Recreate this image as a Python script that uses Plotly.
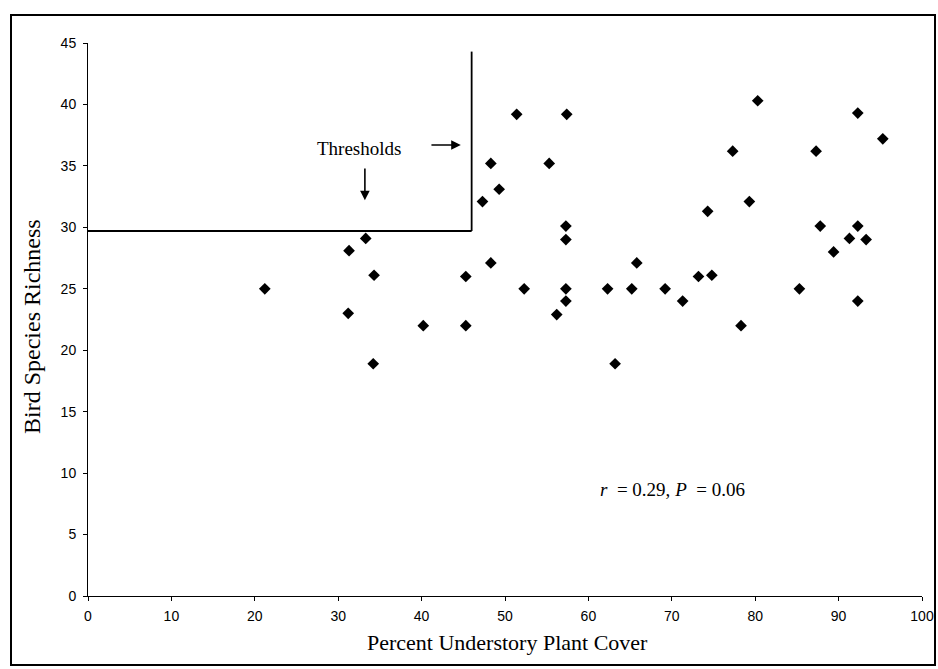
import plotly.graph_objects as go

# Data (Percent understory plant cover vs bird species richness)
cover = [21.2, 31.3, 33.3, 34.3, 31.2, 40.2, 34.2,
         45.3, 45.3, 47.3, 48.3, 48.3, 49.3, 51.4, 52.3, 55.3, 56.2, 57.4,
         57.3, 57.3, 57.3, 57.3, 62.3, 63.2, 65.2, 65.8, 69.2, 71.3, 73.2,
         74.3, 74.8, 77.3, 78.3, 79.3, 80.3, 85.3, 87.3, 87.8, 89.4, 91.3,
         92.3, 92.3, 92.3, 93.3, 95.3]
richness = [25.0, 28.1, 29.1, 26.1, 23.0, 22.0, 18.9,
            26.0, 22.0, 32.1, 35.2, 27.1, 33.1, 39.2, 25.0, 35.2, 22.9, 39.2,
            30.1, 29.0, 25.0, 24.0, 25.0, 18.9, 25.0, 27.1, 25.0, 24.0, 26.0,
            31.3, 26.1, 36.2, 22.0, 32.1, 40.3, 25.0, 36.2, 30.1, 28.0, 29.1,
            39.3, 30.1, 24.0, 29.0, 37.2]

x_ticks = [0, 10, 20, 30, 40, 50, 60, 70, 80, 90, 100]
y_ticks = [0, 5, 10, 15, 20, 25, 30, 35, 40, 45]

threshold_cover = 46.0
threshold_richness = 29.7

W, H = 938, 669
L, R, T, B = 88, 16, 43, 73
PW, PH = W - L - R, H - T - B


def px(xp):
    return (xp - L) / PW


def py(yp):
    return (H - B - yp) / PH


fig = go.Figure()
fig.add_trace(go.Scatter(
    x=cover, y=richness, mode="markers",
    marker=dict(symbol="diamond", size=9, color="black"),
    showlegend=False, hoverinfo="x+y"))

# Threshold lines
fig.add_shape(type="line", xref="x", yref="y", x0=0, y0=threshold_richness,
              x1=threshold_cover, y1=threshold_richness,
              line=dict(color="black", width=1.8))
fig.add_shape(type="line", xref="x", yref="y", x0=threshold_cover, y0=threshold_richness,
              x1=threshold_cover, y1=44.3,
              line=dict(color="black", width=1.8))

# Outer frame
fig.add_shape(type="rect", xref="paper", yref="paper",
              x0=px(11), y0=py(665), x1=px(935), y1=py(15),
              line=dict(color="black", width=2))

serif = "Liberation Serif, Times New Roman, serif"
sans = "Liberation Sans, Arial, sans-serif"

fig.add_annotation(x=32.5, y=36.45, xref="x", yref="y", text="Thresholds",
                   showarrow=False, xanchor="center", yanchor="middle",
                   font=dict(family=serif, size=19, color="black"))
fig.add_annotation(x=33.2, y=32.2, ax=33.2, ay=34.9, xref="x", yref="y",
                   axref="x", ayref="y", text="", showarrow=True,
                   arrowhead=2, arrowsize=1.2, arrowwidth=1.6, arrowcolor="black")
fig.add_annotation(x=44.7, y=36.7, ax=41.0, ay=36.7, xref="x", yref="y",
                   axref="x", ayref="y", text="", showarrow=True,
                   arrowhead=2, arrowsize=1.2, arrowwidth=1.6, arrowcolor="black")
fig.add_annotation(x=70.1, y=8.7, xref="x", yref="y",
                   text="<i>r</i>  = 0.29, <i>P</i>  = 0.06",
                   showarrow=False, xanchor="center", yanchor="middle",
                   font=dict(family=serif, size=19, color="black"))

# Axis titles
fig.add_annotation(x=px(507), y=py(642), xref="paper", yref="paper",
                   text="Percent Understory Plant Cover", showarrow=False,
                   xanchor="center", yanchor="middle",
                   font=dict(family=serif, size=22, color="black"))
fig.add_annotation(x=px(32), y=py(327), xref="paper", yref="paper",
                   text="Bird Species Richness", showarrow=False, textangle=-90,
                   xanchor="center", yanchor="middle",
                   font=dict(family=serif, size=24, color="black"))

fig.update_xaxes(range=[0, 100], tickvals=x_ticks, ticktext=[str(v) for v in x_ticks],
                 showline=True, linecolor="black", linewidth=1,
                 ticks="outside", ticklen=4, tickcolor="black",
                 ticklabelstandoff=3,
                 showgrid=False, zeroline=False,
                 tickfont=dict(family=sans, size=14, color="black"))
fig.update_yaxes(range=[0, 45], tickvals=y_ticks, ticktext=[str(v) for v in y_ticks],
                 showline=True, linecolor="black", linewidth=1,
                 ticks="outside", ticklen=4, tickcolor="black",
                 ticklabelstandoff=4,
                 showgrid=False, zeroline=False,
                 tickfont=dict(family=sans, size=14, color="black"))

fig.update_layout(width=W, height=H,
                  margin=dict(l=L, r=R, t=T, b=B, autoexpand=False),
                  plot_bgcolor="white", paper_bgcolor="white")

fig.write_html("out.html", config={"displayModeBar": False},
               post_script="document.body.style.margin='0';"
                           "document.documentElement.style.overflow='hidden';")
